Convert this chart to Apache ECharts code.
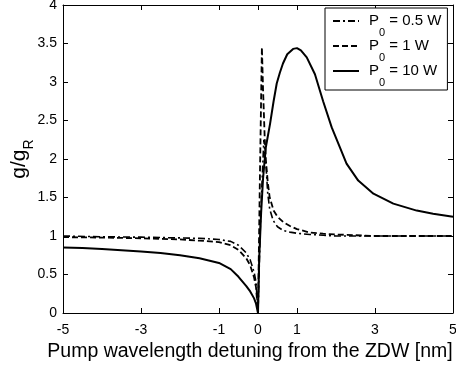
<!DOCTYPE html>
<html><head><meta charset="utf-8">
<script src="https://cdn.jsdelivr.net/npm/echarts@6/dist/echarts.min.js"></script>
<style>html,body{margin:0;padding:0;background:#fff}#c{width:456px;height:365px}</style>
</head><body><div id="c"></div>
<script>
// Data
var xTicks = [-5, -3, -1, 0, 1, 3, 5];
var yTicks = [0, 0.5, 1, 1.5, 2, 2.5, 3, 3.5, 4];
var seriesNames = ['0.5', '1', '10'];

var x05 = [-5,-4,-3,-2,-1.5,-1,-0.7,-0.5,-0.3,-0.2,-0.1,-0.05,0,0.07,0.15,0.2,0.25,0.3,0.39,0.5,0.65,0.82,1.0,1.33,1.67,2.0,3,4,5];
var y05 = [1.0,0.99,0.985,0.975,0.97,0.955,0.93,0.88,0.78,0.69,0.53,0.4,0,1.3,2.25,1.95,1.55,1.35,1.2,1.12,1.07,1.05,1.035,1.02,1.01,1.0,1.0,1.0,1.0];

var x1 = [-5,-4,-3,-2,-1.5,-1,-0.7,-0.5,-0.3,-0.2,-0.1,-0.05,0,0.05,0.1,0.13,0.17,0.2,0.25,0.3,0.4,0.5,0.65,0.82,1.0,1.33,1.67,2.0,2.5,3,4,5];
var y1 = [0.985,0.98,0.97,0.955,0.94,0.92,0.88,0.82,0.71,0.62,0.46,0.33,0,1.8,3.45,2.9,2.3,2.0,1.7,1.5,1.33,1.25,1.18,1.13,1.09,1.045,1.03,1.02,1.01,1.0,1.0,1.0];

var x10 = [-5,-4.5,-4,-3.5,-3,-2.5,-2,-1.5,-1,-0.7,-0.5,-0.3,-0.2,-0.1,-0.05,0,0.03,0.08,0.13,0.2,0.31,0.4,0.48,0.56,0.64,0.75,0.9,1.0,1.1,1.25,1.46,1.67,1.89,2.1,2.27,2.57,2.96,3.47,4.07,4.49,5];
var y10 = [0.85,0.845,0.83,0.815,0.80,0.78,0.75,0.71,0.65,0.57,0.47,0.35,0.28,0.19,0.12,0,0.7,1.3,1.75,2.15,2.46,2.75,2.98,3.12,3.24,3.36,3.43,3.44,3.41,3.32,3.10,2.75,2.41,2.15,1.94,1.72,1.55,1.42,1.33,1.29,1.25];

function pairs(xs, ys){ return xs.map(function(x,i){ return [x, ys[i]]; }); }

var FONT = '"Liberation Sans", Arial, sans-serif';
var chart = echarts.init(document.getElementById('c'), null, {renderer:'canvas'});
var axisCommon = {
  axisLine: {show:true, onZero:false, lineStyle:{color:'#000', width:1}},
  splitLine: {show:false}
};
chart.setOption({
  animation: false,
  backgroundColor: '#fff',
  grid: {left:63, right:3, top:5, bottom:52, containLabel:false, outerBoundsMode:'none'},
  legend: {
    orient: 'vertical', left: 325, top: 8,
    padding: [5, 6, 2, 7],
    itemGap: 0, itemWidth: 26, itemHeight: 14,
    borderColor: '#000', borderWidth: 1, backgroundColor: '#fff',
    itemStyle: {opacity: 0},
    data: ['P05', 'P1', 'P10'],
    formatter: function(n){
      var v = n === 'P05' ? '0.5' : (n === 'P1' ? '1' : '10');
      return '{a|P}{s|0}{a| = ' + v + ' W}';
    },
    textStyle: {
      fontFamily: FONT, color:'#000', padding:[0,0,0,5],
      rich: {
        a: {fontFamily: FONT, fontSize: 15, color:'#000', lineHeight: 16, verticalAlign: 'top'},
        s: {fontFamily: FONT, fontSize: 11, color:'#000', lineHeight: 8, verticalAlign: 'top', padding:[14,0,0,0]}
      }
    }
  },
  xAxis: [
    Object.assign({}, axisCommon, {
      type:'value', min:-5, max:5, position:'bottom',
      name: 'Pump wavelength detuning from the ZDW [nm]',
      nameLocation:'middle', nameGap: 29, nameMoveOverlap: false,
      nameTextStyle: {fontFamily: FONT, fontSize: 19.5, color:'#000', padding:[0,16,0,0]},
      axisTick: {show:true, inside:true, length:5, lineStyle:{color:'#000'}, customValues: xTicks},
      axisLabel: {show:true, fontFamily: FONT, fontSize: 14, color:'#000', margin: 10, customValues: xTicks,
        formatter: function(v){ return String(v); }}
    }),
    Object.assign({}, axisCommon, {
      type:'value', min:-5, max:5, position:'top',
      axisTick: {show:true, inside:true, length:5, lineStyle:{color:'#000'}, customValues: xTicks},
      axisLabel: {show:false}
    })
  ],
  yAxis: [
    Object.assign({}, axisCommon, {
      type:'value', min:0, max:4, interval:0.5, position:'left',
      name: '{a|g/g}{s|R}',
      nameLocation:'middle', nameGap: 30, nameRotate: 90, nameMoveOverlap: false,
      nameTextStyle: {
        fontFamily: FONT, color:'#000',
        rich: {
          a: {fontFamily: FONT, fontSize: 21, color:'#000', lineHeight: 24, verticalAlign:'top'},
          s: {fontFamily: FONT, fontSize: 14, color:'#000', lineHeight: 12, verticalAlign:'top', padding:[13,0,0,0]}
        }
      },
      axisTick: {show:true, inside:true, length:5, lineStyle:{color:'#000'}},
      axisLabel: {show:true, fontFamily: FONT, fontSize: 14, color:'#000', margin: 6,
        formatter: function(v){ return yTicks.indexOf(v) >= 0 ? String(v) : ''; }}
    }),
    Object.assign({}, axisCommon, {
      type:'value', min:0, max:4, interval:0.5, position:'right',
      axisTick: {show:true, inside:true, length:5, lineStyle:{color:'#000'}},
      axisLabel: {show:false}
    })
  ],
  series: [
    {name:'P05', type:'line', xAxisIndex:0, yAxisIndex:0, showSymbol:false, symbol:'none',
     data: pairs(x05, y05), lineStyle:{color:'#000', width:1.6, type:[7,3,2,3]}, itemStyle:{color:'#000'}},
    {name:'P1', type:'line', xAxisIndex:0, yAxisIndex:0, showSymbol:false, symbol:'none',
     data: pairs(x1, y1), lineStyle:{color:'#000', width:1.8, type:[6,3]}, itemStyle:{color:'#000'}},
    {name:'P10', type:'line', xAxisIndex:0, yAxisIndex:0, showSymbol:false, symbol:'none',
     data: pairs(x10, y10), lineStyle:{color:'#000', width:2, type:'solid'}, itemStyle:{color:'#000'}}
  ]
});
</script></body></html>
